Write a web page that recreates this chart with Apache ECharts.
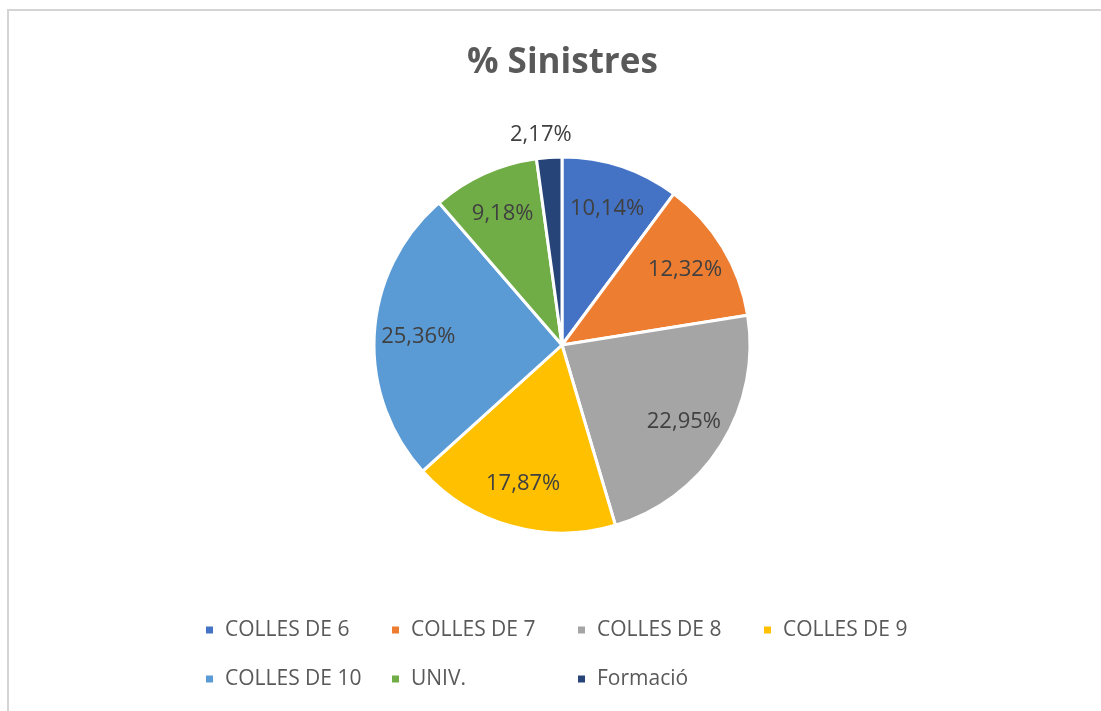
<!DOCTYPE html>
<html>
<head>
<meta charset="utf-8">
<script src="https://cdn.jsdelivr.net/npm/echarts@6/dist/echarts.min.js"></script>
<style>
  html, body { margin: 0; padding: 0; background: #ffffff; }
  #chart { width: 1101px; height: 711px; }
</style>
</head>
<body>
<div id="chart"></div>
<script>
const categories = ['COLLES DE 6', 'COLLES DE 7', 'COLLES DE 8', 'COLLES DE 9', 'COLLES DE 10', 'UNIV.', 'Formació'];
const shares = [10.14, 12.32, 22.95, 17.87, 25.36, 9.18, 2.17];
const colors = ['#4472C4', '#ED7D31', '#A5A5A5', '#FFC000', '#5B9BD5', '#70AD47', '#264478'];

const FONT = '"Open Sans", "Noto Sans", sans-serif';
const CENTER = [562, 345];
const R = 188;

function fmt(v) {
  return v.toFixed(2).replace('.', ',') + '%';
}

// small slices get their label outside, the rest inside
const pieData = categories.map((name, i) => ({
  name,
  value: shares[i],
  label: { show: shares[i] < 5 }
}));

const labelData = categories.map((name, i) => ({
  name,
  value: shares[i],
  label: { show: shares[i] >= 5 }
}));

const chart = echarts.init(document.getElementById('chart'), null, { renderer: 'canvas' });
chart.setOption({
  animation: false,
  color: colors,
  backgroundColor: '#ffffff',
  graphic: [{
    type: 'rect',
    shape: { x: 8, y: 10, width: 1110, height: 720 },
    style: { fill: 'none', stroke: '#d4d4d4', lineWidth: 2 },
    silent: true
  }],
  title: {
    text: '% Sinistres',
    left: 462,
    top: 41,
    textStyle: { fontFamily: FONT, fontSize: 35, fontWeight: 'bold', color: '#595959' }
  },
  legend: {
    data: categories,
    left: 199,
    top: 613,
    width: 760,
    icon: 'rect',
    itemWidth: 9,
    itemHeight: 9,
    itemGap: 25,
    textStyle: {
      fontFamily: FONT,
      fontSize: 21,
      color: '#595959',
      width: 140,
      lineHeight: 24,
      padding: [0, 0, 0, 6]
    }
  },
  series: [
    {
      type: 'pie',
      center: CENTER,
      radius: R,
      startAngle: 90,
      clockwise: true,
      itemStyle: { borderColor: '#ffffff', borderWidth: 3 },
      label: {
        position: 'outside',
        fontFamily: FONT,
        fontSize: 22,
        color: '#404040',
        formatter: (p) => fmt(p.value)
      },
      labelLine: { show: false, length: 8, length2: 0 },
      labelLayout: (p) => (p.dataIndex === 6 ? { dx: 28, dy: -15 } : {}),
      emphasis: { disabled: true },
      data: pieData
    },
    {
      type: 'pie',
      center: CENTER,
      radius: [R / 2, R],
      startAngle: 90,
      clockwise: true,
      silent: true,
      itemStyle: { color: 'rgba(0,0,0,0)', borderWidth: 0 },
      label: {
        position: 'inside',
        fontFamily: FONT,
        fontSize: 22,
        color: '#404040',
        formatter: (p) => fmt(p.value)
      },
      labelLine: { show: false },
      emphasis: { disabled: true },
      data: labelData
    }
  ]
});
</script>
</body>
</html>
